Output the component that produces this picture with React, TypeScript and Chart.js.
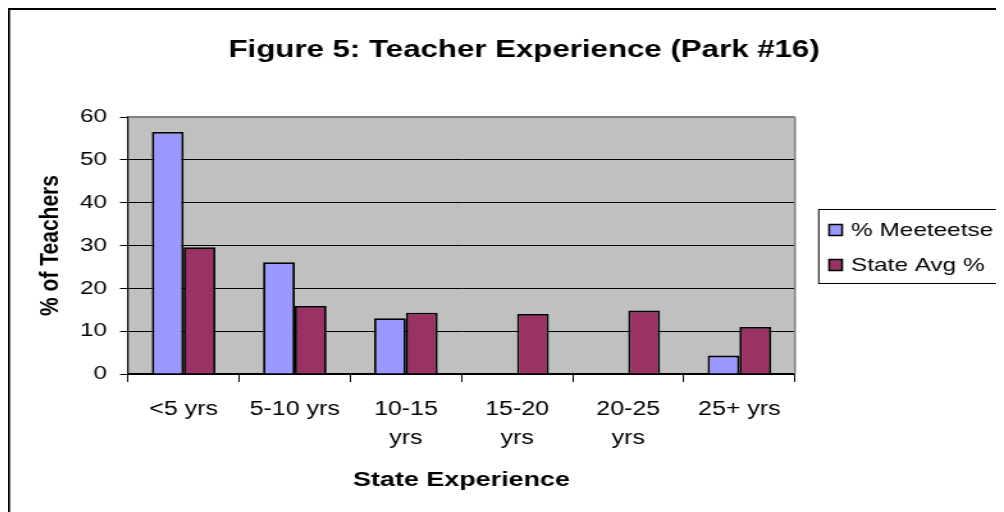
import React, { useEffect, useRef } from "react";
import { Chart, registerables } from "chart.js";

Chart.register(...registerables);

const TITLE = "Figure 5: Teacher Experience (Park #16)";
const X_TITLE = "State Experience";
const Y_TITLE = "% of Teachers";
const categories: (string | string[])[] = [
  "<5 yrs",
  "5-10 yrs",
  ["10-15", "yrs"],
  ["15-20", "yrs"],
  ["20-25", "yrs"],
  "25+ yrs",
];
const seriesNames = ["% Meeteetse", "State Avg %"];
const meeteetse = [56.5, 26.1, 13.0, 0, 0, 4.3];
const stateAvg = [29.6, 15.9, 14.3, 14.0, 14.8, 11.0];
const yTicks = [0, 10, 20, 30, 40, 50, 60];
const colors = ["#9999FF", "#993366"];

const SX = 1.28; // horizontal stretch of the reference picture
const W = 996 / SX;
const H = 504;
const FONT = "'Liberation Sans', Arial, sans-serif";

const px = (v: number) => v / SX;

export default function App() {
  const ref = useRef<HTMLCanvasElement | null>(null);

  useEffect(() => {
    const canvas = ref.current;
    if (!canvas) return;

    const framePlugin = {
      id: "frame",
      beforeDraw(chart: any) {
        const { ctx, chartArea } = chart;
        ctx.save();
        ctx.fillStyle = "#FFFFFF";
        ctx.fillRect(0, 0, chart.width, chart.height);
        ctx.fillStyle = "#000000";
        ctx.fillRect(0, 0, 1.6, chart.height);
        ctx.fillRect(0, 0, chart.width, 2);
        ctx.fillStyle = "#C0C0C0";
        ctx.fillRect(
          chartArea.left,
          chartArea.top,
          chartArea.right - chartArea.left,
          chartArea.bottom - chartArea.top
        );
        ctx.restore();
      },
      beforeDatasetsDraw(chart: any) {
        const { ctx, chartArea } = chart;
        ctx.save();
        ctx.strokeStyle = "#808080";
        ctx.lineWidth = 2;
        ctx.beginPath();
        ctx.moveTo(chartArea.left, chartArea.top);
        ctx.lineTo(chartArea.right, chartArea.top);
        ctx.stroke();
        ctx.lineWidth = 1.6;
        ctx.beginPath();
        ctx.moveTo(chartArea.right, chartArea.top);
        ctx.lineTo(chartArea.right, chartArea.bottom);
        ctx.stroke();
        ctx.restore();
      },
      afterDraw(chart: any) {
        const { ctx } = chart;
        ctx.save();
        // title
        ctx.fillStyle = "#000";
        ctx.font = `bold 24.4px ${FONT}`;
        ctx.textAlign = "center";
        ctx.textBaseline = "middle";
        ctx.fillText(TITLE, px(516), 42);
        // legend
        const lx = px(810);
        ctx.strokeStyle = "#000";
        ctx.lineWidth = 1;
        ctx.strokeRect(lx + 0.5, 201.5, 300, 74);
        ctx.font = `19px ${FONT}`;
        ctx.textAlign = "left";
        const rows = [222, 257];
        chart.data.datasets.forEach((ds: any, i: number) => {
          const y = rows[i];
          ctx.fillStyle = ds.backgroundColor;
          ctx.fillRect(px(821), y - 5.5, px(13), 11);
          ctx.lineWidth = 1.5;
          ctx.strokeStyle = "#000";
          ctx.strokeRect(px(821), y - 5.5, px(13), 11);
          ctx.fillStyle = "#000";
          ctx.fillText(ds.label, px(843), y + 1);
        });
        ctx.restore();
      },
    };

    const chart = new Chart(canvas, {
      type: "bar",
      data: {
        labels: categories,
        datasets: [
          {
            label: seriesNames[0],
            data: meeteetse,
            backgroundColor: colors[0],
            borderColor: "#000",
            borderWidth: 1.8,
            categoryPercentage: 2 / 3.5,
            barPercentage: 1,
          },
          {
            label: seriesNames[1],
            data: stateAvg,
            backgroundColor: colors[1],
            borderColor: "#000",
            borderWidth: 1.8,
            categoryPercentage: 2 / 3.5,
            barPercentage: 1,
          },
        ],
      },
      options: {
        responsive: false,
        animation: false,
        devicePixelRatio: 1,
        layout: {
          padding: { top: 109, right: W - px(787), bottom: 0, left: 0 },
        },
        plugins: {
          legend: { display: false },
          title: { display: false },
          tooltip: { enabled: false },
        },
        scales: {
          x: {
            afterFit(scale: any) {
              scale.height = 138;
            },
            grid: {
              offset: true,
              drawOnChartArea: false,
              color: "#000",
              tickColor: "#000",
              tickLength: 8,
              lineWidth: 1,
            },
            border: { display: true, color: "#000", width: 1.5 },
            ticks: {
              color: "#000",
              font: { family: FONT, size: 19.5, lineHeight: 1.5 },
              padding: 13,
              autoSkip: false,
              maxRotation: 0,
              minRotation: 0,
            },
            title: {
              display: true,
              text: X_TITLE,
              color: "#000",
              font: { family: FONT, size: 21, weight: "bold", lineHeight: 1.2 },
              padding: { top: 0, bottom: 19 },
            },
          },
          y: {
            min: 0,
            max: 60,
            afterFit(scale: any) {
              scale.width = px(120);
            },
            afterBuildTicks(scale: any) {
              scale.ticks = yTicks.map((v) => ({ value: v }));
            },
            grid: {
              color: (c: any) =>
                c.tick && c.tick.value === 60 ? "rgba(0,0,0,0)" : "#000",
              tickColor: "#000",
              tickLength: px(8),
              lineWidth: 1,
            },
            border: { display: true, color: "#000", width: 1.2 },
            ticks: {
              color: "#000",
              font: { family: FONT, size: 19 },
              padding: px(13),
            },
            title: {
              display: true,
              text: Y_TITLE,
              color: "#000",
              font: { family: FONT, size: 21, weight: "bold", lineHeight: 1.2 },
              padding: { top: px(42) - 12.6, bottom: 0 },
            },
          },
        },
      },
      plugins: [framePlugin],
    } as any);

    return () => chart.destroy();
  }, []);

  return (
    <div style={{ width: 996, height: 504, overflow: "hidden" }}>
      <canvas
        ref={ref}
        width={Math.round(W)}
        height={H}
        style={{
          display: "block",
          width: `${Math.round(W)}px`,
          height: `${H}px`,
          transform: `scaleX(${996 / Math.round(W)})`,
          transformOrigin: "0 0",
        }}
      />
    </div>
  );
}
